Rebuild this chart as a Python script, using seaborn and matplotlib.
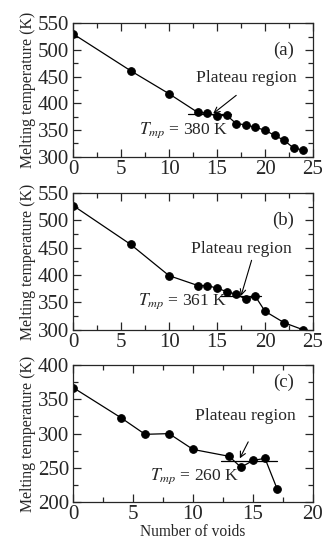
import numpy as np
import pandas as pd
import matplotlib
matplotlib.use('Agg')
import matplotlib.pyplot as plt
import seaborn as sns
from matplotlib.ticker import MultipleLocator

# panel (a)
voids_a = [0, 6, 10, 13, 14, 15, 16, 17, 18, 19, 20, 21, 22, 23, 24]
temp_a = [530, 461, 418, 383, 382, 376, 378, 362, 360, 355, 350, 340, 331, 316, 313]
# panel (b)
voids_b = [0, 6, 10, 13, 14, 15, 16, 17, 18, 19, 20, 22, 24]
temp_b = [527, 456, 399, 381, 381, 376, 370, 365, 356, 361, 334, 313, 300]
# panel (c)
voids_c = [0, 4, 6, 8, 10, 13, 14, 15, 16, 17]
temp_c = [367, 323, 299, 300, 277, 267, 251, 261, 264, 220]

panels = [
    dict(x=voids_a, y=temp_a, tag='(a)', tmp=380, xlim=25, ylim=(300, 550),
         plat=(12, 16.5), tag_xy=(23.0, 500), lab_xy=(18.1, 447),
         tmp_xy=(6.9, 350), tail=(17.0, 415), head=(14.6, 381)),
    dict(x=voids_b, y=temp_b, tag='(b)', tmp=361, xlim=25, ylim=(300, 550),
         plat=(15.3, 19.6), tag_xy=(23.0, 500), lab_xy=(17.5, 448),
         tmp_xy=(6.8, 352), tail=(18.6, 427), head=(17.5, 362)),
    dict(x=voids_c, y=temp_c, tag='(c)', tmp=260, xlim=20, ylim=(200, 400),
         plat=(12.3, 17.0), tag_xy=(18.4, 374), lab_xy=(14.4, 326),
         tmp_xy=(6.4, 238), tail=(14.6, 288), head=(13.9, 264)),
]

sns.set_style('ticks')
plt.rcParams['font.family'] = ['Liberation Serif', 'DejaVu Serif']
plt.rcParams['mathtext.fontset'] = 'stix'

fig = plt.figure(figsize=(3.22, 5.39), dpi=100)
rects = [(0.227, 0.709, 0.745, 0.248),
         (0.227, 0.388, 0.745, 0.254),
         (0.227, 0.068, 0.745, 0.255)]

for p, r in zip(panels, rects):
    ax = fig.add_axes(r)
    df = pd.DataFrame({'voids': p['x'], 'temp': p['y']})
    sns.lineplot(data=df, x='voids', y='temp', ax=ax, color='k', lw=0.9,
                 marker='o', markersize=5.5, markeredgecolor='k')
    ax.plot(p['plat'], [p['tmp'], p['tmp']], color='k', lw=0.9)
    ax.set_xlim(0, p['xlim'])
    ax.set_ylim(*p['ylim'])
    ax.xaxis.set_major_locator(MultipleLocator(5))
    ax.xaxis.set_minor_locator(MultipleLocator(2.5))
    ax.yaxis.set_major_locator(MultipleLocator(50))
    ax.yaxis.set_minor_locator(MultipleLocator(25))
    ax.tick_params(which='both', direction='in', top=True, right=True,
                   labelsize=15, pad=2, width=0.9)
    ax.tick_params(axis='y', pad=3)
    ax.tick_params(which='major', length=6)
    ax.tick_params(which='minor', length=3.5)
    for s in ax.spines.values():
        s.set_linewidth(0.9)
    ax.set_ylabel('Melting temperature (K)', fontsize=11.4, labelpad=1)
    ax.set_xlabel('')
    ax.text(*p['tag_xy'], p['tag'], fontsize=13.5, ha='right', va='center')
    ax.text(*p['lab_xy'], 'Plateau region', fontsize=12.6, ha='center', va='center')
    ax.text(*p['tmp_xy'], r'$T_{mp}$' + ' = {} K'.format(p['tmp']), fontsize=12.6,
            ha='left', va='center')
    ax.annotate('', xy=p['head'], xytext=p['tail'],
                arrowprops=dict(arrowstyle='->', color='k', lw=0.8,
                                shrinkA=0, shrinkB=0))

ax.set_xlabel('Number of voids', fontsize=11.2, labelpad=0)

plt.savefig('out.png', dpi=100)
plt.close(fig)
